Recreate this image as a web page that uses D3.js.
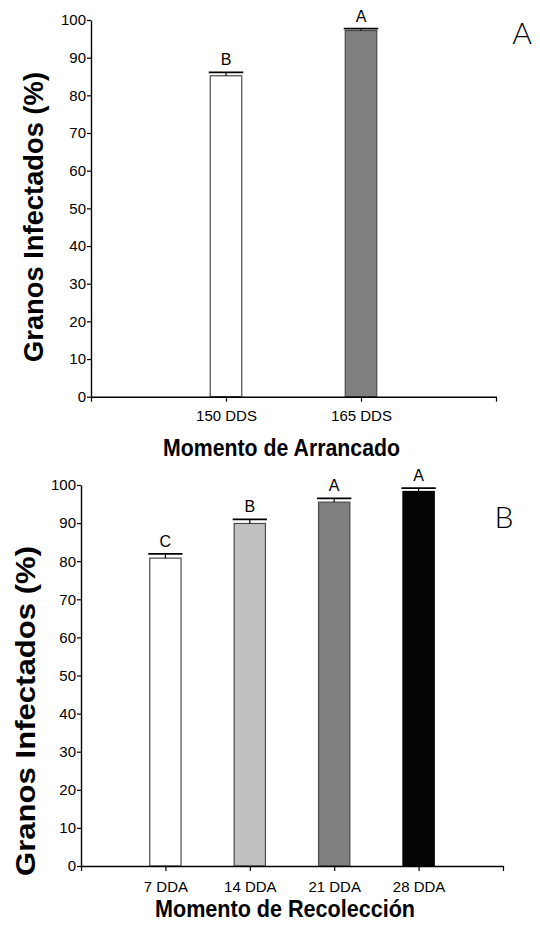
<!DOCTYPE html>
<html><head><meta charset="utf-8">
<script src="https://cdn.jsdelivr.net/npm/d3@7"></script>
<style>
body{margin:0;background:#fff;}
svg{display:block;}
</style></head>
<body><svg id="c" width="540" height="931"></svg>
<script>
// ---- Data ----
const catsA = ["150 DDS", "165 DDS"];
const valuesA = [85.2, 97.2];
const errA = [0.9, 0.5];
const lettersA = ["B", "A"];
const colorsA = ["#ffffff", "#808080"];

const catsB = ["7 DDA", "14 DDA", "21 DDA", "28 DDA"];
const valuesB = [80.8, 89.9, 95.5, 98.3];
const errB = [1.1, 1.1, 1.0, 0.9];
const lettersB = ["C", "B", "A", "A"];
const colorsB = ["#ffffff", "#c0c0c0", "#808080", "#050505"];

const yTicks = [0,10,20,30,40,50,60,70,80,90,100];

const svg = d3.select("#c");
const FONT = "'Liberation Sans', Arial, Helvetica, sans-serif";

function panel(cfg){
  const g = svg.append("g");
  const n = cfg.cats.length;
  const x = d3.scaleLinear().domain([0, n+1]).range([cfg.x0, cfg.x1]);
  const y = d3.scaleLinear().domain([0, 100]).range([cfg.y0, cfg.y1]);
  const bw = cfg.bw;

  // bars
  g.selectAll("rect.bar").data(cfg.values).enter().append("rect")
    .attr("x", (d,i)=> x(i+1) - bw/2)
    .attr("y", d=> y(d))
    .attr("width", bw)
    .attr("height", d=> y(0) - y(d))
    .attr("fill", (d,i)=> cfg.colors[i])
    .attr("stroke", (d,i)=> i===3 ? "#000" : "#4a4a4a")
    .attr("stroke-width", 1.2);

  // error bars
  cfg.values.forEach((v,i)=>{
    const cx = x(i+1), top = y(v + cfg.err[i]);
    g.append("line").attr("x1",cx).attr("x2",cx).attr("y1",y(v)).attr("y2",top)
      .attr("stroke","#000").attr("stroke-width",1.2);
    g.append("line").attr("x1",cx-bw/2-1.5).attr("x2",cx+bw/2+1.5).attr("y1",top).attr("y2",top)
      .attr("stroke","#000").attr("stroke-width",1.8);
    g.append("text").attr("x",cx).attr("y",top-7)
      .attr("text-anchor","middle")
      .style("font-family",FONT)
      .style("font-size","16px").attr("fill","#000")
      .text(cfg.letters[i]);
  });

  // y axis
  const ya = g.append("g").attr("transform",`translate(${cfg.x0},0)`)
    .call(d3.axisLeft(y).tickValues(yTicks).tickSize(4).tickSizeOuter(0).tickPadding(1));
  // x axis
  const xa = g.append("g").attr("transform",`translate(0,${cfg.y0})`)
    .call(d3.axisBottom(x).tickValues(d3.range(0,n+2)).tickSize(5).tickSizeOuter(0)
      .tickPadding(cfg.xpad)
      .tickFormat(d=> (d>=1 && d<=n) ? cfg.cats[d-1] : ""));
  [ya, xa].forEach(a=>{
    a.selectAll("path.domain").attr("stroke","#000").attr("stroke-width",1.4);
    a.selectAll(".tick line").attr("stroke","#000").attr("stroke-width",1.2);
    a.selectAll("text").attr("fill","#000")
      .style("font-family",FONT)
      .style("font-size","15px");
  });

  // titles
  g.append("text").attr("transform",`translate(${cfg.ytx},${cfg.yty}) rotate(-90)`)
    .attr("text-anchor","middle").attr("dy","0.36em")
    .attr("textLength", cfg.ytLen).attr("lengthAdjust","spacingAndGlyphs")
    .style("font-family",FONT)
    .style("font-weight","bold").style("font-size","27px")
    .text("Granos Infectados (%)");
  g.append("text").attr("x",cfg.xtx).attr("y",cfg.xty).attr("text-anchor","middle")
    .attr("dy","0.36em")
    .attr("textLength", cfg.xtLen).attr("lengthAdjust","spacingAndGlyphs")
    .style("font-family",FONT)
    .style("font-weight","bold").style("font-size","24px")
    .text(cfg.xtitle);
  g.append("text").attr("x",cfg.plx).attr("y",cfg.ply).attr("text-anchor","middle")
    .attr("dy","0.36em")
    .style("font-family","Lato, 'Open Sans', sans-serif")
    .style("font-weight","300").style("font-size","30px")
    .text(cfg.plabel);
}

panel({cats:catsA, values:valuesA, err:errA, letters:lettersA, colors:colorsA,
  x0:91, x1:496, y0:396.7, y1:20, bw:31.5, xpad:9,
  ytx:33, yty:217, ytLen:290, xtx:281.5, xty:447, xtLen:237, xtitle:"Momento de Arrancado",
  plx:522, ply:33, plabel:"A"});

panel({cats:catsB, values:valuesB, err:errB, letters:lettersB, colors:colorsB,
  x0:81, x1:503, y0:866, y1:485, bw:31.3, xpad:10,
  ytx:25, yty:711, ytLen:330, xtx:285, xty:908, xtLen:260, xtitle:"Momento de Recolección",
  plx:504, ply:517, plabel:"B"});
</script></body></html>
